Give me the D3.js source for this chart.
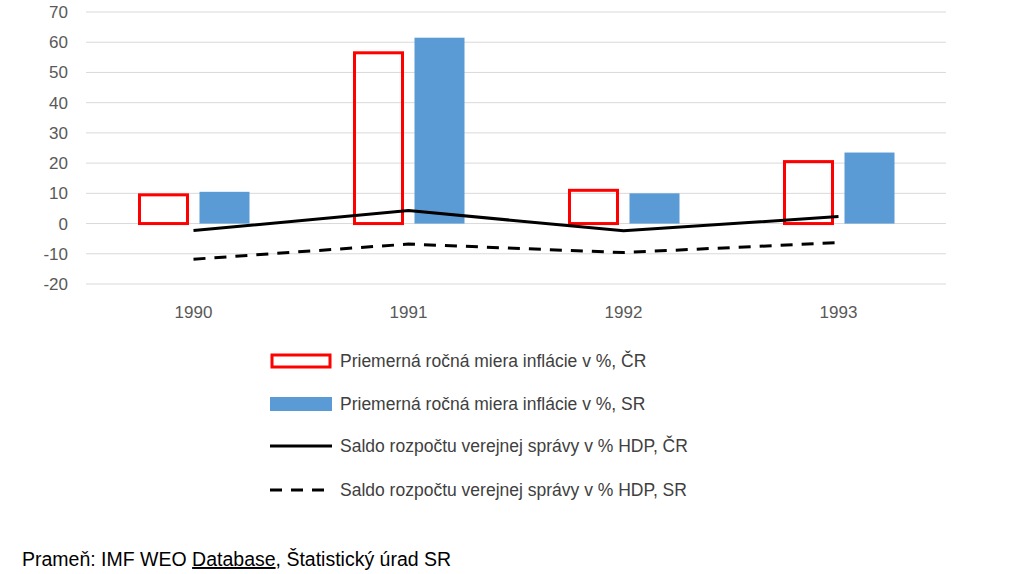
<!DOCTYPE html>
<html><head><meta charset="utf-8">
<script src="https://cdn.jsdelivr.net/npm/d3@7"></script>
<style>body{margin:0;background:#fff;font-family:"Liberation Sans",Arial,sans-serif;}</style>
</head><body>
<script>
var years = ["1990","1991","1992","1993"];
var inflCR = [9.5, 56.5, 11, 20.5];
var inflSR = [10.5, 61.5, 10, 23.5];
var saldoCR = [-2.3, 4.3, -2.4, 2.3];
var saldoSR = [-11.8, -6.8, -9.6, -6.3];
var yTicks = [-20,-10,0,10,20,30,40,50,60,70];
var legendLabels = ["Priemerná ročná miera inflácie v %, ČR","Priemerná ročná miera inflácie v %, SR",
  "Saldo rozpočtu verejnej správy v % HDP, ČR","Saldo rozpočtu verejnej správy v % HDP, SR"];

var svg = d3.select("body").append("svg").attr("width",1024).attr("height",574);

var x = d3.scaleBand().domain(years).range([86,946]);
var y = d3.scaleLinear().domain([-20,70]).range([284,12]);

svg.append("g").selectAll("line").data(yTicks).join("line")
  .attr("x1",86).attr("x2",946).attr("y1",d=>y(d)).attr("y2",d=>y(d))
  .attr("stroke","#d9d9d9").attr("stroke-width",1);

svg.append("g").selectAll("text").data(yTicks).join("text")
  .attr("x",68).attr("y",d=>y(d)+6).attr("text-anchor","end")
  .attr("font-size",17).attr("fill","#595959").text(d=>d);

svg.append("g").selectAll("text").data(years).join("text")
  .attr("x",d=>x(d)+x.bandwidth()/2).attr("y",318).attr("text-anchor","middle")
  .attr("font-size",17).attr("fill","#595959").text(d=>d);

var bw = 48;
svg.append("g").selectAll("rect").data(years).join("rect")
  .attr("x",d=>x(d)+x.bandwidth()/2-bw-6).attr("width",bw)
  .attr("y",(d,i)=>y(inflCR[i])).attr("height",(d,i)=>y(0)-y(inflCR[i]))
  .attr("fill","none").attr("stroke","#ff0000").attr("stroke-width",3);
svg.append("g").selectAll("rect").data(years).join("rect")
  .attr("x",d=>x(d)+x.bandwidth()/2+6).attr("width",bw+2)
  .attr("y",(d,i)=>y(inflSR[i])).attr("height",(d,i)=>y(0)-y(inflSR[i]))
  .attr("fill","#5b9bd5");

var line = d3.line().x((d,i)=>x(years[i])+x.bandwidth()/2).y(d=>y(d));
svg.append("path").datum(saldoCR).attr("d",line).attr("fill","none").attr("stroke","#000").attr("stroke-width",3);
svg.append("path").datum(saldoSR).attr("d",line).attr("fill","none").attr("stroke","#000").attr("stroke-width",3).attr("stroke-dasharray","12,9");

var lg = svg.append("g");
var ly = [361,404,446,490];
legendLabels.forEach(function(t,i){
  var yy = ly[i];
  if(i==0) lg.append("rect").attr("x",272).attr("y",yy-6).attr("width",58).attr("height",12).attr("fill","none").attr("stroke","#ff0000").attr("stroke-width",3);
  if(i==1) lg.append("rect").attr("x",270).attr("y",yy-7).attr("width",62).attr("height",14).attr("fill","#5b9bd5");
  if(i==2) lg.append("line").attr("x1",270).attr("x2",332).attr("y1",yy).attr("y2",yy).attr("stroke","#000").attr("stroke-width",3);
  if(i==3) lg.append("line").attr("x1",270).attr("x2",332).attr("y1",yy).attr("y2",yy).attr("stroke","#000").attr("stroke-width",3).attr("stroke-dasharray","12,9");
  lg.append("text").attr("x",340).attr("y",yy+6).attr("font-size",17.5).attr("fill","#404040").text(t);
});

var src = svg.append("text").attr("x",22).attr("y",566).attr("font-size",19.5).attr("fill","#000");
src.append("tspan").text("Prameň: IMF WEO ");
src.append("tspan").attr("style","text-decoration:underline wavy red").text("Database");
src.append("tspan").text(", Štatistický úrad SR");
</script>
</body></html>
